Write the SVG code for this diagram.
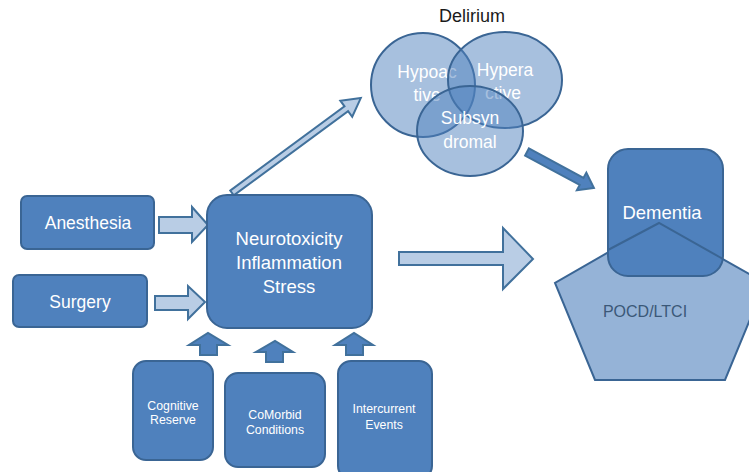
<svg xmlns="http://www.w3.org/2000/svg" width="749" height="472" viewBox="0 0 749 472">
<style>
.box{fill:#4f81bd;stroke:#3a6594;stroke-width:2}
.circ{fill:#4f81bd;fill-opacity:0.5;stroke:#3a6594;stroke-width:2}
.light{fill:#b9cde5;stroke:#41719c;stroke-width:2;stroke-linejoin:miter}
.dark{fill:#4f81bd;stroke:#41719c;stroke-width:2}
.t{font-family:"Liberation Sans",Arial,sans-serif;fill:#ffffff;text-anchor:middle}
.tb{font-family:"Liberation Sans",Arial,sans-serif;fill:#1a1a1a;text-anchor:middle}
</style>
<rect width="749" height="472" fill="#ffffff"/>
<g id="connectors">
<polygon class="light" points="159,217 192,217 192,207 208,225 192,242 192,233 159,233"/>
<polygon class="light" points="155,296 188,296 188,286 205,302 188,319 188,310 155,310"/>
<polygon class="light" points="0,-3 142,-3 142,-10 160,0 142,10 142,3 0,3" transform="translate(232,193) rotate(-36.4)"/>
<polygon class="light" points="399,252 503,252 503,228 533,259 503,289 503,265 399,265"/>
<polygon class="dark" points="200,355 200,345 189,345 208,333 228,345 217,345 217,355"/>
<polygon class="dark" points="266,362 266,352 256,352 275,341 293,352 283,352 283,362"/>
<polygon class="dark" points="346,355 346,345 335,345 354,333 373,345 363,345 363,355"/>
<polygon class="dark" points="0,-4 62,-4 62,-10 76,0 62,10 62,4 0,4" transform="translate(527,152) rotate(28.3)"/>
</g>
<g id="anesthesia">
<rect class="box" x="21" y="196" width="133" height="53" rx="6"/>
<text class="t" x="88" y="229" font-size="17.5">Anesthesia</text>
</g>
<g id="surgery">
<rect class="box" x="13" y="275" width="134" height="52" rx="6"/>
<text class="t" x="80" y="308" font-size="17.5">Surgery</text>
</g>
<g id="neurotoxicity">
<rect class="box" x="207" y="195" width="165" height="133" rx="20"/>
<text class="t" x="289" y="245" font-size="18.5">Neurotoxicity</text>
<text class="t" x="289" y="269" font-size="18.5">Inflammation</text>
<text class="t" x="289" y="293" font-size="18.5">Stress</text>
</g>
<g id="cognitive-reserve">
<rect class="box" x="133" y="361" width="80" height="99" rx="13"/>
<text class="t" x="173" y="410" font-size="12.3">Cognitive</text>
<text class="t" x="173" y="424" font-size="12.3">Reserve</text>
</g>
<g id="comorbid">
<rect class="box" x="225" y="373" width="100" height="94" rx="13"/>
<text class="t" x="275" y="419" font-size="12.3">CoMorbid</text>
<text class="t" x="275" y="434" font-size="12.3">Conditions</text>
</g>
<g id="intercurrent">
<rect class="box" x="338" y="361" width="94" height="118" rx="13"/>
<text class="t" x="384" y="413" font-size="12.3">Intercurrent</text>
<text class="t" x="384" y="429" font-size="12.3">Events</text>
</g>
<g id="delirium">
<text class="tb" x="472" y="22" font-size="18">Delirium</text>
<g id="hypoactive">
<ellipse class="circ" cx="423" cy="85" rx="52" ry="52"/>
<text class="t" x="427" y="78" font-size="17.5">Hypoac</text>
<text class="t" x="427" y="101" font-size="17.5">tive</text>
</g>
<g id="hyperactive">
<ellipse class="circ" cx="505" cy="80" rx="57" ry="48"/>
<text class="t" x="505" y="76" font-size="17.5">Hypera</text>
<text class="t" x="503" y="99" font-size="17.5">ctive</text>
</g>
<g id="subsyndromal">
<ellipse class="circ" cx="470" cy="131" rx="53" ry="45"/>
<text class="t" x="470" y="124" font-size="17.5">Subsyn</text>
<text class="t" x="470" y="148" font-size="17.5">dromal</text>
</g>
</g>
<g id="pocd-ltci">
<polygon points="659,223 765,283 725,380 595,380 555,283" fill="#95b3d7" stroke="#3a6594" stroke-width="2"/>
<text x="645" y="317" font-size="16" font-family="Liberation Sans,Arial,sans-serif" fill="#3b5878" text-anchor="middle">POCD/LTCI</text>
</g>
<g id="dementia">
<rect class="box" x="608" y="149" width="115" height="127" rx="20"/>
<polyline points="608,250 659,223 723,259" fill="none" stroke="#3a6594" stroke-width="2"/>
<text class="t" x="662" y="219" font-size="18.5">Dementia</text>
</g>
</svg>
